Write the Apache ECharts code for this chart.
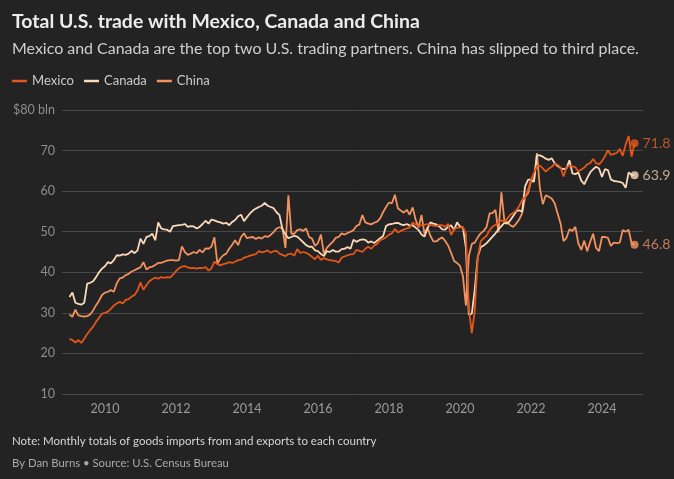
<!DOCTYPE html>
<html>
<head>
<meta charset="utf-8">
<script src="https://cdn.jsdelivr.net/npm/echarts@6/dist/echarts.min.js"></script>
<style>
html,body{margin:0;padding:0;background:#232323;}
#chart{width:674px;height:479px;}
</style>
</head>
<body>
<div id="chart"></div>
<script>
// ---------------- DATA ----------------
const startYear = 2009; // monthly, Jan 2009 .. Dec 2024
const seriesNames = ['Mexico', 'Canada', 'China'];

const mexico = [
  23.6, 23.3, 22.7, 23.3, 22.6, 23.6, 24.8, 25.7, 26.6, 27.8, 28.8, 29.8,
  30.0, 30.3, 31.0, 31.8, 32.3, 32.7, 32.3, 33.2, 33.4, 34.0, 34.4, 35.5,
  37.5, 35.7, 36.8, 37.8, 38.3, 38.7, 38.4, 38.8, 38.6, 38.8, 38.7, 39.4,
  40.3, 41.0, 41.4, 41.5, 41.2, 41.0, 41.1, 40.9, 41.1, 41.0, 41.3, 40.4,
  41.0, 42.6, 42.0, 41.7, 42.0, 42.2, 42.5, 42.3, 42.6, 43.0, 43.1, 43.6,
  43.8, 44.1, 44.3, 44.5, 45.2, 44.9, 45.1, 45.4, 44.8, 45.2, 45.3, 44.6,
  44.3, 44.0, 44.5, 44.6, 44.1, 45.7, 44.8, 45.0, 44.8, 44.4, 43.8, 43.2,
  44.1, 43.0, 43.5, 43.2, 43.0, 42.9, 42.8, 42.4, 43.6, 43.9, 44.2, 44.4,
  44.5, 45.5, 45.3, 45.0, 45.8, 46.3, 45.8, 46.6, 47.0, 47.9, 48.2, 48.6,
  49.3, 49.6, 50.7, 49.8, 50.2, 50.5, 50.8, 51.0, 52.3, 51.8, 51.4, 51.6,
  51.7, 51.9, 51.7, 51.5, 51.4, 51.6, 51.6, 51.2, 51.9, 49.2, 50.6, 51.0,
  51.0, 51.2, 49.5, 31.0, 25.0, 30.5, 43.5, 47.6, 48.4, 49.0, 50.4, 51.2,
  51.7, 52.2, 52.8, 52.5, 53.2, 54.2, 54.6, 55.2, 56.3, 57.8, 58.5, 60.3,
  62.8, 64.5, 66.2, 66.3, 65.6, 64.8, 65.5, 66.0, 66.8, 66.5, 65.8, 63.6,
  65.8, 66.3, 66.1, 65.9, 64.9, 65.3, 65.8, 66.6, 66.9, 67.9, 66.9, 66.6,
  67.4, 68.6, 70.1, 68.9, 69.2, 69.4, 70.4, 68.7, 71.5, 73.6, 68.5, 71.8
];

const canada = [
  33.9, 35.0, 32.5, 32.2, 32.0, 32.5, 37.2, 37.4, 37.8, 38.8, 40.0, 40.9,
  41.5, 42.5, 42.2, 43.0, 44.2, 44.1, 44.4, 44.3, 44.6, 45.3, 44.7, 45.4,
  48.3, 47.0, 48.7, 48.9, 49.5, 47.9, 52.3, 50.8, 50.6, 50.5, 50.0, 51.4,
  51.5, 51.6, 51.7, 51.9, 51.2, 51.4, 51.3, 50.8, 51.2, 51.9, 52.7, 52.0,
  53.0, 52.8, 52.5, 52.3, 52.0, 52.2, 51.6, 52.4, 52.9, 53.8, 54.2, 52.6,
  53.6, 54.5, 55.2, 55.7, 56.1, 56.4, 57.1, 56.4, 56.1, 55.8, 54.8, 54.1,
  50.6, 49.3, 48.4, 48.7, 49.0, 48.8, 48.1, 47.4, 46.7, 46.3, 46.3, 45.4,
  45.2, 44.5, 44.0, 45.2, 45.0, 45.5, 45.1, 45.1, 45.7, 45.8, 46.2, 45.8,
  48.0, 47.5, 47.9, 48.1, 48.0, 47.3, 47.6, 47.2, 47.8, 48.4, 48.9, 51.4,
  51.8, 51.9, 52.1, 52.2, 51.8, 51.6, 51.9, 51.5, 51.6, 51.0, 50.4, 49.3,
  48.8, 50.8, 52.3, 52.0, 51.8, 51.3, 50.6, 50.5, 51.2, 51.6, 50.4, 52.3,
  51.3, 51.0, 46.0, 29.5, 29.8, 35.8, 43.8, 46.2, 46.6, 47.2, 48.0, 48.8,
  49.6, 50.6, 51.4, 52.2, 52.0, 52.8, 53.9, 55.0, 55.3, 54.9, 61.2, 62.8,
  62.9, 62.4, 68.8, 68.8, 68.5, 68.0, 67.7, 68.1, 66.9, 66.2, 65.7, 65.4,
  65.6, 67.6, 64.4, 64.2, 64.6, 62.6, 61.7, 63.2, 64.6, 65.4, 66.0, 65.6,
  63.5, 65.4, 65.2, 62.9, 62.5, 62.4, 62.3, 62.0, 60.8, 64.6, 64.0, 63.9
];

const china = [
  29.6, 29.0, 30.8, 29.4, 29.2, 29.1, 29.2, 29.6, 30.6, 31.9, 33.0, 34.4,
  35.0, 35.2, 35.6, 35.2, 37.3, 38.5, 38.7, 39.3, 39.6, 40.2, 40.5, 40.9,
  41.2, 42.5, 40.7, 41.2, 41.4, 41.8, 42.3, 42.3, 42.6, 42.9, 43.0, 43.0,
  42.9, 43.0, 46.4, 45.0, 44.3, 44.6, 45.0, 44.7, 45.5, 44.9, 45.9, 45.8,
  46.3, 48.6, 42.1, 43.4, 44.2, 44.6, 45.8, 46.8, 47.9, 46.7, 48.7, 49.6,
  48.4, 48.6, 48.7, 48.2, 48.6, 48.3, 48.9, 48.7, 49.2, 49.9, 50.8, 51.1,
  50.8, 46.0, 59.0, 49.5, 49.5, 50.4, 50.6, 50.2, 50.8, 48.7, 48.3, 46.5,
  47.2, 49.3, 44.6, 46.0, 46.8, 47.5, 48.5, 48.7, 49.6, 49.3, 49.7, 50.0,
  50.4, 51.4, 51.8, 54.1, 52.3, 52.0, 51.8, 52.2, 52.5, 53.3, 54.8, 56.1,
  57.2, 57.0, 59.1, 55.8, 55.2, 54.7, 55.4, 54.2, 56.0, 53.0, 51.0, 54.1,
  49.5, 51.0, 49.0, 47.6, 47.6, 48.2, 48.6, 47.7, 46.6, 44.8, 42.8, 42.3,
  41.6, 39.0, 31.8, 44.0, 47.0, 47.3, 48.6, 49.6, 50.2, 51.2, 54.5, 54.6,
  55.4, 49.8, 59.7, 52.7, 52.3, 51.6, 51.2, 52.0, 53.0, 54.5, 58.5, 59.5,
  62.5, 62.3, 69.4, 60.8, 56.8, 59.0, 58.6, 58.2, 57.0, 54.5, 52.0, 47.7,
  48.5, 50.6, 50.2, 51.2, 47.1, 45.5, 47.8, 45.2, 47.5, 49.5, 46.0, 45.2,
  48.7, 48.7, 48.5, 46.5, 47.3, 47.2, 47.3, 50.4, 50.0, 50.5, 47.1, 46.8
];

const xTickLabels = [2010, 2012, 2014, 2016, 2018, 2020, 2022, 2024];
const yMin = 10, yMax = 80, yStep = 10;

const titleText = 'Total U.S. trade with Mexico, Canada and China';
const subtitleText = 'Mexico and Canada are the top two U.S. trading partners. China has slipped to third place.';
const noteText = 'Note: Monthly totals of goods imports from and exports to each country';
const bylineText = 'By Dan Burns \u2022 Source: U.S. Census Bureau';

// ---------------- STYLE ----------------
const FONT = 'Lato';
const lineColors = { Mexico: '#e3561a', Canada: '#fad8ba', China: '#f2925f' };
const endLabelColors = { Mexico: '#d8652f', Canada: '#e8cdb6', China: '#e3946c' };

const mctx = document.createElement('canvas').getContext('2d');
function fitSize(text, weight, target) {
  mctx.font = weight + ' 100px ' + FONT;
  return +(100 * target / mctx.measureText(text).width).toFixed(2);
}
const titleSize = fitSize(titleText, 'bold', 408);
const subSize = fitSize(subtitleText, 'normal', 627);
const noteSize = fitSize(noteText, 'normal', 365);
const bylineSize = fitSize(bylineText, 'normal', 217);
const legendSize = fitSize('Mexico', 'normal', 42);
const axisSize = fitSize('$80 bln', 'normal', 42);
const endSize = fitSize('71.8', 'normal', 28);

const months = mexico.map((_, i) => startYear + i / 12);
const dataByName = { Mexico: mexico, Canada: canada, China: china };

function pts(arr) { return arr.map((v, i) => [months[i], v]); }

const drawOrder = ['China', 'Canada', 'Mexico'];
const series = [];
drawOrder.forEach((name, k) => {
  series.push({
    name: name,
    type: 'line',
    data: pts(dataByName[name]),
    symbol: 'none',
    showSymbol: false,
    lineStyle: { color: lineColors[name], width: 1.8 },
    itemStyle: { color: lineColors[name] },
    emphasis: { disabled: true },
    z: 2 + k
  });
});
drawOrder.forEach((name, k) => {
  const arr = dataByName[name];
  const last = arr.length - 1;
  series.push({
    name: name + ' latest',
    type: 'scatter',
    data: [[months[last], arr[last]]],
    symbol: 'circle',
    symbolSize: 8,
    itemStyle: { color: lineColors[name] },
    label: {
      show: true,
      position: 'right',
      distance: 4,
      formatter: p => p.value[1].toFixed(1),
      color: endLabelColors[name],
      fontFamily: FONT,
      fontSize: endSize
    },
    emphasis: { disabled: true },
    z: 10
  });
});

const chart = echarts.init(document.getElementById('chart'), null, { renderer: 'canvas' });
chart.setOption({
  backgroundColor: '#232323',
  animation: false,
  textStyle: { fontFamily: FONT },
  grid: { left: 62, right: 31, top: 110, bottom: 85, containLabel: false },
  legend: {
    data: seriesNames,
    left: 12,
    top: 73,
    padding: 0,
    icon: 'rect',
    itemWidth: 15,
    itemHeight: 2.5,
    itemGap: 10,
    selectedMode: false,
    textStyle: { color: '#c9c9c9', fontFamily: FONT, fontSize: legendSize, lineHeight: 16 }
  },
  xAxis: {
    type: 'value',
    min: 2008.79,
    max: 2025.155,
    axisLine: { show: false },
    axisTick: { show: false },
    splitLine: { show: false },
    axisLabel: {
      customValues: xTickLabels,
      formatter: v => String(Math.round(v)),
      color: '#9a9a9a',
      fontFamily: FONT,
      fontSize: axisSize,
      margin: 8
    }
  },
  yAxis: {
    type: 'value',
    min: yMin,
    max: yMax,
    interval: yStep,
    axisLine: { show: false },
    axisTick: { show: false },
    splitLine: { show: true, lineStyle: { color: '#484848', width: 1 } },
    axisLabel: {
      formatter: v => (v === yMax ? '$' + v + ' bln' : String(v)),
      color: '#8e8e8e',
      fontFamily: FONT,
      fontSize: axisSize,
      margin: 7
    }
  },
  graphic: [
    { type: 'text', silent: true, style: { text: titleText, x: 12, y: 22, fill: '#ececec', font: 'bold ' + titleSize + 'px ' + FONT, align: 'left', verticalAlign: 'middle', textAlign: 'left', textVerticalAlign: 'middle' } },
    { type: 'text', silent: true, style: { text: subtitleText, x: 12, y: 49, fill: '#cfcfcf', font: subSize + 'px ' + FONT, align: 'left', verticalAlign: 'middle', textAlign: 'left', textVerticalAlign: 'middle' } },
    { type: 'text', silent: true, style: { text: noteText, x: 12, y: 441, fill: '#d6d6d6', font: noteSize + 'px ' + FONT, align: 'left', verticalAlign: 'middle', textAlign: 'left', textVerticalAlign: 'middle' } },
    { type: 'text', silent: true, style: { text: bylineText, x: 12, y: 463, fill: '#a9a9a9', font: bylineSize + 'px ' + FONT, align: 'left', verticalAlign: 'middle', textAlign: 'left', textVerticalAlign: 'middle' } }
  ],
  series: series
});
</script>
</body>
</html>
